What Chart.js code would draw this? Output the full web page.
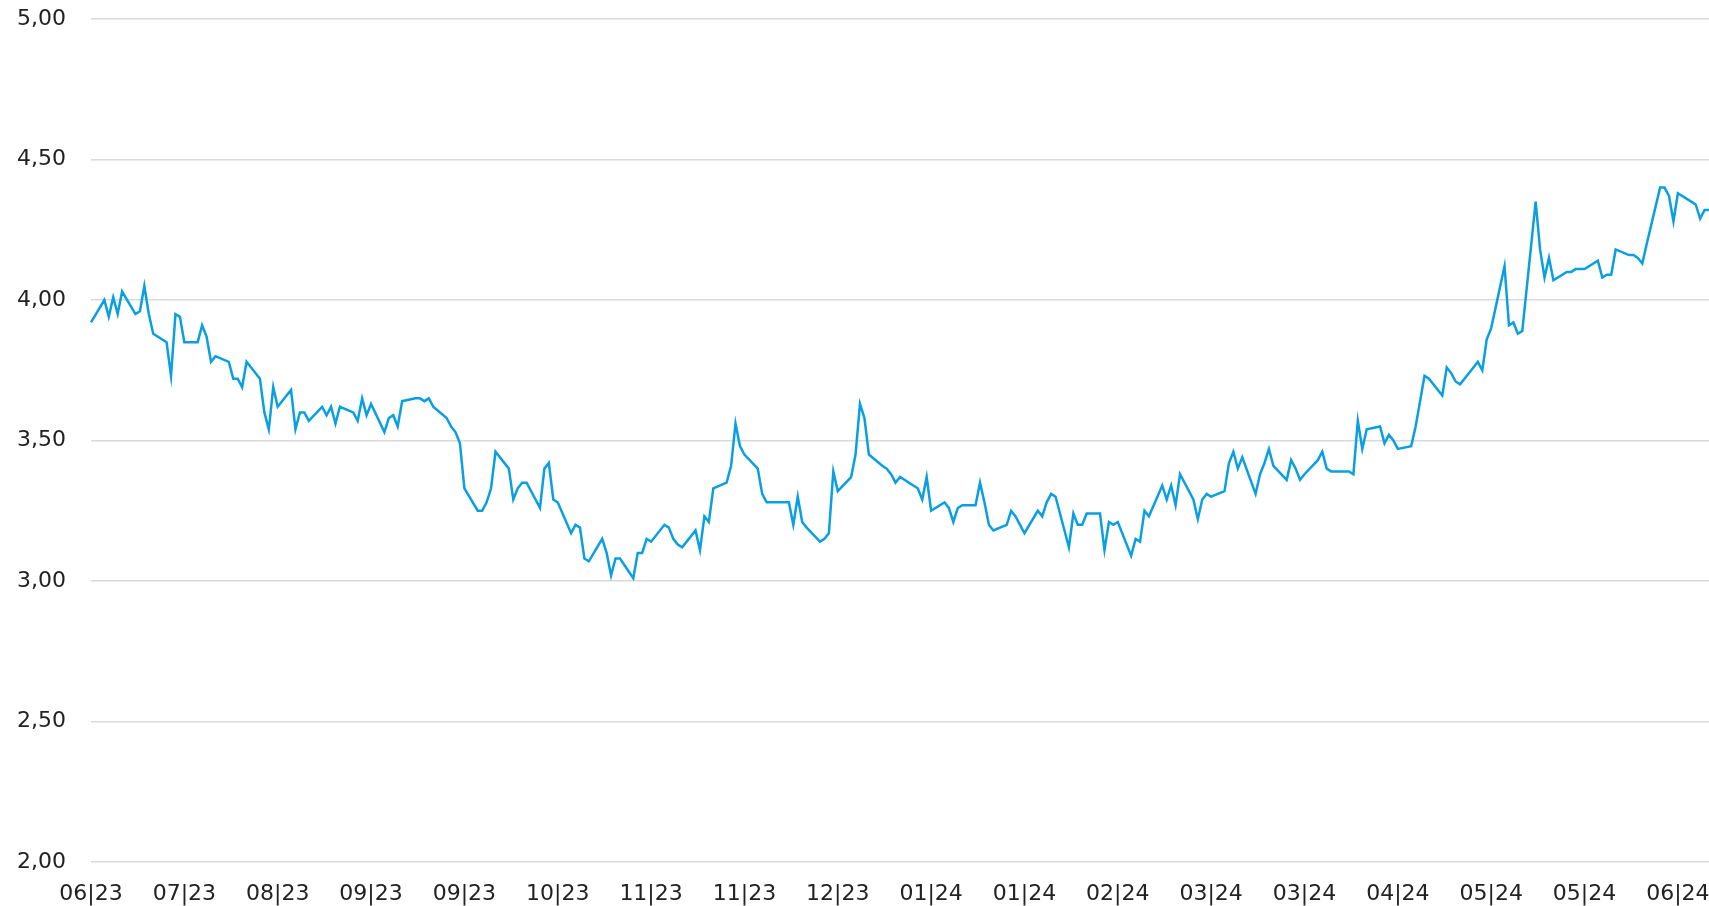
<!DOCTYPE html>
<html>
<head>
<meta charset="utf-8">
<script src="https://cdn.jsdelivr.net/npm/chart.js@4.4.0/dist/chart.umd.min.js"></script>
<style>
  html, body { margin: 0; padding: 0; background: #fff; }
  #wrap { width: 1709px; height: 906px; }
</style>
</head>
<body>
<div id="wrap"><canvas id="chart"></canvas></div>
<script>
// first trading day of the series
const startDate = new Date(2023, 5, 30)

// one value per trading day (Mon-Fri)
const values = [
  3.92,
  4.00, 3.94, 4.01, 3.95, 4.03,
  3.95, 3.96, 4.05, 3.95, 3.88,
  3.85, 3.73, 3.95, 3.94, 3.85,
  3.85, 3.91, 3.87, 3.78, 3.80,
  3.78, 3.72, 3.72, 3.69, 3.78,
  3.72, 3.60, 3.54, 3.69, 3.62,
  3.68, 3.54, 3.60, 3.60, 3.57,
  3.62, 3.59, 3.62, 3.56, 3.62,
  3.60, 3.57, 3.65, 3.59, 3.63,
  3.53, 3.58, 3.59, 3.55, 3.64,
  3.65, 3.65, 3.64, 3.65, 3.62,
  3.58, 3.55, 3.53, 3.49, 3.33,
  3.25, 3.25, 3.28, 3.33, 3.46,
  3.40, 3.29, 3.33, 3.35, 3.35,
  3.26, 3.40, 3.42, 3.29, 3.28,
  3.17, 3.20, 3.19, 3.08, 3.07,
  3.15, 3.10, 3.02, 3.08, 3.08,
  3.01, 3.10, 3.10, 3.15, 3.14,
  3.20, 3.19, 3.15, 3.13, 3.12,
  3.18, 3.11, 3.23, 3.21, 3.33,
  3.35, 3.41, 3.56, 3.48, 3.45,
  3.40, 3.31, 3.28, 3.28, 3.28,
  3.28, 3.20, 3.30, 3.21, 3.19,
  3.14, 3.15, 3.17, 3.39, 3.32,
  3.37, 3.45, 3.63, 3.58, 3.45,
  3.41, 3.40, 3.38, 3.35, 3.37,
  3.34, 3.33, 3.29, 3.37, 3.25,
  3.28, 3.26, 3.21, 3.26, 3.27,
  3.27, 3.35, 3.28, 3.20, 3.18,
  3.20, 3.25, 3.23, 3.20, 3.17,
  3.25, 3.23, 3.28, 3.31, 3.30,
  3.12, 3.24, 3.20, 3.20, 3.24,
  3.24, 3.11, 3.21, 3.20, 3.21,
  3.09, 3.15, 3.14, 3.25, 3.23,
  3.34, 3.29, 3.34, 3.27, 3.38,
  3.29, 3.22, 3.29, 3.31, 3.30,
  3.32, 3.42, 3.46, 3.40, 3.44,
  3.31, 3.38, 3.42, 3.47, 3.41,
  3.36, 3.43, 3.40, 3.36, 3.38,
  3.43, 3.46, 3.40, 3.39, 3.39,
  3.39, 3.38, 3.57, 3.47, 3.54,
  3.55, 3.49, 3.52, 3.50, 3.47,
  3.48, 3.55, 3.64, 3.73, 3.72,
  3.66, 3.76, 3.74, 3.71, 3.70,
  3.76, 3.78, 3.75, 3.86, 3.90,
  4.12, 3.91, 3.92, 3.88, 3.89,
  4.35, 4.18, 4.08, 4.15, 4.07,
  4.10, 4.10, 4.11, 4.11, 4.11,
  4.14, 4.08, 4.09, 4.09, 4.18,
  4.16, 4.16, 4.15, 4.13, 4.20,
  4.40, 4.40, 4.37, 4.28, 4.38,
  4.35, 4.34, 4.29, 4.32, 4.32
]

// axis labels, one every 21 calendar days
const tickLabels = ['06|23', '07|23', '08|23', '09|23', '09|23', '10|23', '11|23', '11|23', '12|23',
  '01|24', '01|24', '02|24', '03|24', '03|24', '04|24', '05|24', '05|24', '06|24']
const tickEvery = 21

const yMin = 2
const yMax = 5
const yStep = 0.5

// calendar-day axis, weekends left empty and bridged by the line
const days = []
const series = []
let k = 0
for (let i = 0; k < values.length; i++) {
  const d = new Date(startDate.getFullYear(), startDate.getMonth(), startDate.getDate() + i)
  days.push(d.toDateString())
  const wd = d.getDay()
  if (wd === 0 || wd === 6) {
    series.push(null)
  } else {
    series.push(values[k])
    k++
  }
}

const font = { family: "'DejaVu Sans', sans-serif", size: 22 }

new Chart(document.getElementById('chart'), {
  type: 'line',
  data: {
    labels: days,
    datasets: [{
      data: series,
      borderColor: '#0a9fe0',
      borderWidth: 2.5,
      pointRadius: 0,
      tension: 0,
      spanGaps: true,
      fill: false
    }]
  },
  options: {
    responsive: true,
    maintainAspectRatio: false,
    animation: false,
    layout: { padding: { top: 19, left: 15, right: 0, bottom: 0 } },
    plugins: { legend: { display: false }, tooltip: { enabled: false } },
    scales: {
      x: {
        grid: { display: false, drawTicks: false },
        border: { display: false },
        ticks: {
          autoSkip: false,
          maxRotation: 0,
          minRotation: 0,
          padding: 19,
          color: '#222',
          font: font,
          callback: (v, i) => i % tickEvery === 0 ? tickLabels[i / tickEvery] : ''
        },
        // labels may run past the edges, like the original
        afterFit: s => { s.height = 44; s.paddingLeft = 0; s.paddingRight = 0 }
      },
      y: {
        min: yMin,
        max: yMax,
        grid: { color: '#d9d9d9', lineWidth: 1.5, drawTicks: false },
        border: { display: false },
        ticks: {
          stepSize: yStep,
          padding: 25,
          color: '#222',
          font: font,
          callback: v => v.toFixed(2).replace('.', ',')
        },
        afterFit: s => { s.width = 76; s.paddingTop = 0; s.paddingBottom = 0 }
      }
    }
  }
})
</script>
</body>
</html>
